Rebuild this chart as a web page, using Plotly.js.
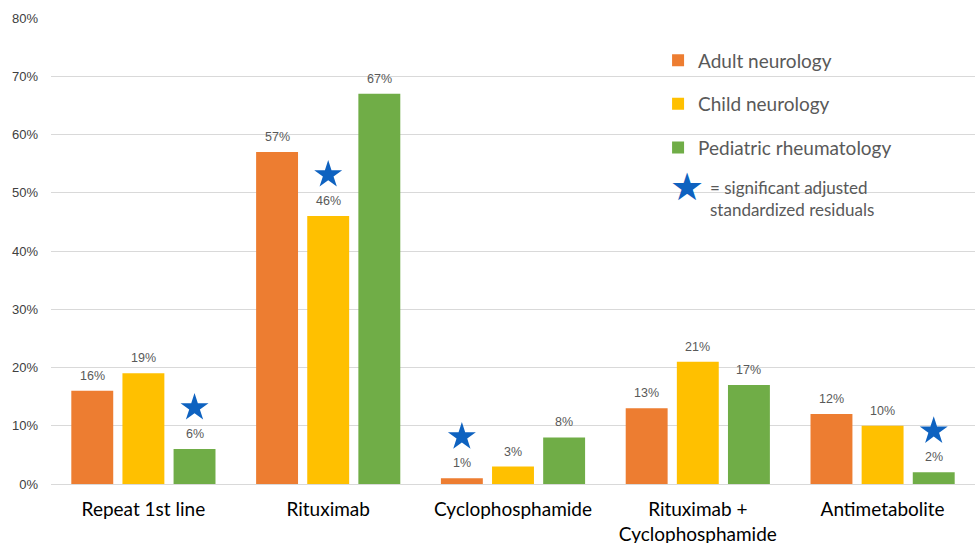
<!DOCTYPE html>
<html>
<head>
<meta charset="utf-8">
<script src="https://cdn.plot.ly/plotly-3.0.1.min.js"></script>
<style>
  html, body { margin: 0; padding: 0; background: #ffffff; }
  #chart { width: 975px; height: 543px; }
</style>
</head>
<body>
<div id="chart"></div>
<script>
// Treatment categories and share of respondents per specialty (%)
const categories = ['Repeat 1st line', 'Rituximab', 'Cyclophosphamide', 'Rituximab +<br>Cyclophosphamide', 'Antimetabolite'];
const seriesNames = ['Adult neurology', 'Child neurology', 'Pediatric rheumatology'];
const adultNeurology = [16, 57, 1, 13, 12];
const childNeurology = [19, 46, 3, 21, 10];
const pediatricRheumatology = [6, 67, 8, 17, 2];

// Which bars carry a significant adjusted standardized residual
const significantAdult = [false, false, true, false, false];
const significantChild = [false, true, false, false, false];
const significantPeds = [true, false, false, false, true];

const yTicks = [0, 10, 20, 30, 40, 50, 60, 70, 80];
const yTickLabels = yTicks.map(v => v + '%');

const seriesValues = [adultNeurology, childNeurology, pediatricRheumatology];
const seriesSignificant = [significantAdult, significantChild, significantPeds];
const seriesColors = ['#ED7D31', '#FFC000', '#70AD47'];

// Grouped bar geometry (in category units) so labels and stars sit over their bars
const BAR_GAP = 0.17;
const BAR_GROUP_GAP = 0.18;
const slot = (1 - BAR_GAP) / seriesValues.length;
const slotOffset = k => (k - (seriesValues.length - 1) / 2) * slot;
const STAR_LIFT = 7.1;   // star sits this many percentage points above its bar

const catIndex = categories.map((_, i) => i);
const traces = [];
const annotations = [];

seriesValues.forEach((vals, k) => {
  traces.push({
    type: 'bar',
    name: seriesNames[k],
    x: catIndex,
    y: vals,
    legendgroup: 'g' + k,
    marker: { color: seriesColors[k], line: { width: 0 } },
    hoverinfo: 'skip'
  });
  vals.forEach((v, i) => {
    annotations.push({
      x: i + slotOffset(k), y: v, xref: 'x', yref: 'y',
      text: v + '%', showarrow: false,
      yanchor: 'middle', yshift: 15,
      font: { family: 'Liberation Sans, Arial, sans-serif', size: 12.5, color: '#595959' }
    });
  });
});

// Significance stars
seriesValues.forEach((vals, k) => {
  const xs = [], ys = [];
  vals.forEach((v, i) => {
    if (seriesSignificant[k][i]) { xs.push(i + slotOffset(k)); ys.push(v + STAR_LIFT); }
  });
  traces.push({
    type: 'scatter', mode: 'markers', x: xs, y: ys, showlegend: false, hoverinfo: 'skip',
    marker: { symbol: 'star', size: 21, color: '#0E62C0', line: { width: 0 } }
  });
});

// Star key next to the legend
annotations.push({
  xref: 'paper', yref: 'paper', x: 0.688, y: 0.637, xanchor: 'center', yanchor: 'middle',
  text: '★', showarrow: false,
  font: { family: 'DejaVu Sans', size: 38, color: '#0E62C0' }
});
annotations.push({
  xref: 'paper', yref: 'paper', x: 0.711, y: 0.612, xanchor: 'left', yanchor: 'middle', align: 'left',
  text: '= significant adjusted<br>standardized residuals', showarrow: false,
  font: { family: 'Lato, sans-serif', size: 17, color: '#595959' }
});

const layout = {
  width: 975, height: 543,
  margin: { l: 51, r: 0, t: 18, b: 59 },
  paper_bgcolor: '#ffffff', plot_bgcolor: '#ffffff',
  barmode: 'group', bargap: BAR_GAP, bargroupgap: BAR_GROUP_GAP,
  showlegend: true,
  legend: {
    x: 0.657, y: 0.95, xanchor: 'left', yanchor: 'top',
    bgcolor: 'rgba(0,0,0,0)', borderwidth: 0,
    traceorder: 'grouped', tracegroupgap: 16,
    font: { family: 'Lato, sans-serif', size: 19, color: '#595959' }
  },
  xaxis: {
    range: [-0.5, categories.length - 0.5],
    tickmode: 'array', tickvals: catIndex, ticktext: categories,
    showgrid: false, zeroline: false, showline: false, ticks: '',
    tickfont: { family: 'Lato, sans-serif', size: 19, color: '#000000' },
    ticklabelstandoff: 12
  },
  yaxis: {
    range: [0, 80], tickmode: 'array', tickvals: yTicks, ticktext: yTickLabels,
    showgrid: true, gridcolor: '#D9D9D9', gridwidth: 1,
    zeroline: true, zerolinecolor: '#D9D9D9', zerolinewidth: 1,
    showline: false, ticks: '', ticklabelstandoff: 12,
    tickfont: { family: 'Liberation Sans, Arial, sans-serif', size: 13, color: '#404040' }
  },
  annotations: annotations
};

Plotly.newPlot('chart', traces, layout, { displayModeBar: false, staticPlot: true });
</script>
</body>
</html>
